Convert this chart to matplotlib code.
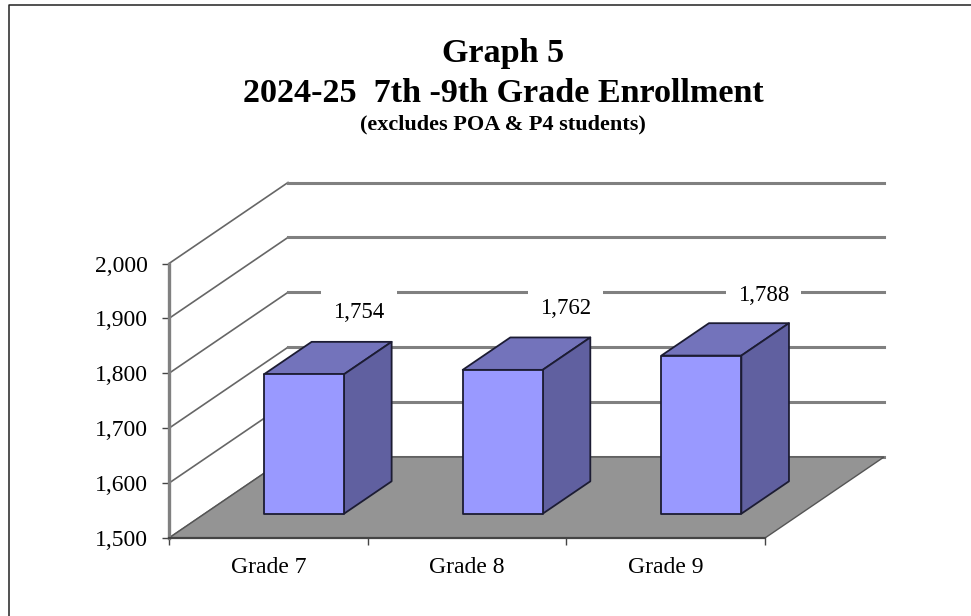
import matplotlib
matplotlib.use("Agg")
import matplotlib.pyplot as plt
from matplotlib.patches import Polygon
from matplotlib.lines import Line2D

categories = ["Grade 7", "Grade 8", "Grade 9"]
enrollment = [1754, 1762, 1788]
y_ticks = [1500, 1600, 1700, 1800, 1900, 2000]
title_lines = ["Graph 5", "2024-25  7th -9th Grade Enrollment", "(excludes POA & P4 students)"]

W, H = 971, 616
plt.rcParams["font.family"] = ["Liberation Serif", "DejaVu Serif"]
fig = plt.figure(figsize=(W / 100, H / 100), dpi=100, facecolor="white")

L, R, T, B = 169, 765, 263.5, 538
ax = fig.add_axes([L / W, 1 - B / H, (R - L) / W, (B - T) / H], facecolor="none")
ax.set_xlim(0, 3)
ax.set_ylim(1500, 2000)
for s in ("top", "right"):
    ax.spines[s].set_visible(False)
ax.spines["left"].set_color("#808080")
ax.spines["left"].set_linewidth(2.4)
ax.spines["bottom"].set_color("#444444")
ax.spines["bottom"].set_linewidth(1.6)
ax.set_yticks(y_ticks)
ax.set_yticklabels([f"{v:,}" for v in y_ticks], fontsize=17)
ax.set_xticks(range(len(categories) + 1))
ax.set_xticklabels([""] * (len(categories) + 1))
ax.set_xticks([i + 0.5 for i in range(len(categories))], minor=True)
ax.set_xticklabels(categories, minor=True, fontsize=17)
ax.tick_params(axis="x", which="minor", length=0, pad=14)
ax.tick_params(axis="x", which="major", length=5, color="#444444", width=1)
ax.tick_params(axis="y", length=5, color="#444444", width=1, pad=10)

# Oblique depth projection: full depth expressed in data units
DX = 119 / ((R - L) / 3)
DY = 81 / ((B - T) / 500)


def proj(x, v, d):
    return (x + DX * d, v + DY * d)


# walls
for v in y_ticks:
    ax.plot(*zip(proj(0, v, 0), proj(0, v, 1)), color="#666666", lw=1.2,
            clip_on=False, zorder=1)
    ax.plot(*zip(proj(0, v, 1), proj(3, v, 1)),
            color="#808080", lw=2.2, clip_on=False, zorder=1)

# floor
floor = [proj(0, 1500, 0), proj(3, 1500, 0), proj(3, 1500, 1), proj(0, 1500, 1)]
ax.add_patch(Polygon(floor, closed=True, fc="#949494", ec="#555555", lw=1,
                     clip_on=False, zorder=2))

# bars
bar_w = 80 / ((R - L) / 3)
d0, d1 = 0.3, 0.7
label_dx = [55, 63, 62]
label_dy = [62, 61, 60]
for i, v in enumerate(enrollment):
    x0 = i + 0.5 - bar_w / 2
    x1 = x0 + bar_w
    front = [proj(x0, 1500, d0), proj(x1, 1500, d0), proj(x1, v, d0), proj(x0, v, d0)]
    side = [proj(x1, 1500, d0), proj(x1, 1500, d1), proj(x1, v, d1), proj(x1, v, d0)]
    top = [proj(x0, v, d0), proj(x1, v, d0), proj(x1, v, d1), proj(x0, v, d1)]
    for pts, col in ((top, "#7373BB"), (side, "#6060A0"), (front, "#9999FF")):
        ax.add_patch(Polygon(pts, closed=True, fc=col, ec="#1c1c33", lw=1.3,
                             joinstyle="round", clip_on=False, zorder=3))
    ax.annotate(f"{v:,}", xy=proj(i + 0.5, v, d0), xytext=(label_dx[i] * 0.72, label_dy[i] * 0.72),
                textcoords="offset points", ha="center", va="center", fontsize=16.5,
                color="black", annotation_clip=False, zorder=4,
                bbox=dict(fc="white", ec="none", pad=8.5))

for txt, y, size in zip(title_lines, (61.7, 101.7, 129), (24.6, 24.6, 16)):
    fig.text(503 / W, 1 - y / H, txt, ha="center", va="baseline", fontsize=size, fontweight="bold")

# chart frame: only its top and left edges fall inside the picture
fig.add_artist(Line2D([8.5 / W, 8.5 / W, 1], [0, 1 - 5 / H, 1 - 5 / H], color="#222222", lw=1.1))
fig.savefig("out.png", dpi=100)
